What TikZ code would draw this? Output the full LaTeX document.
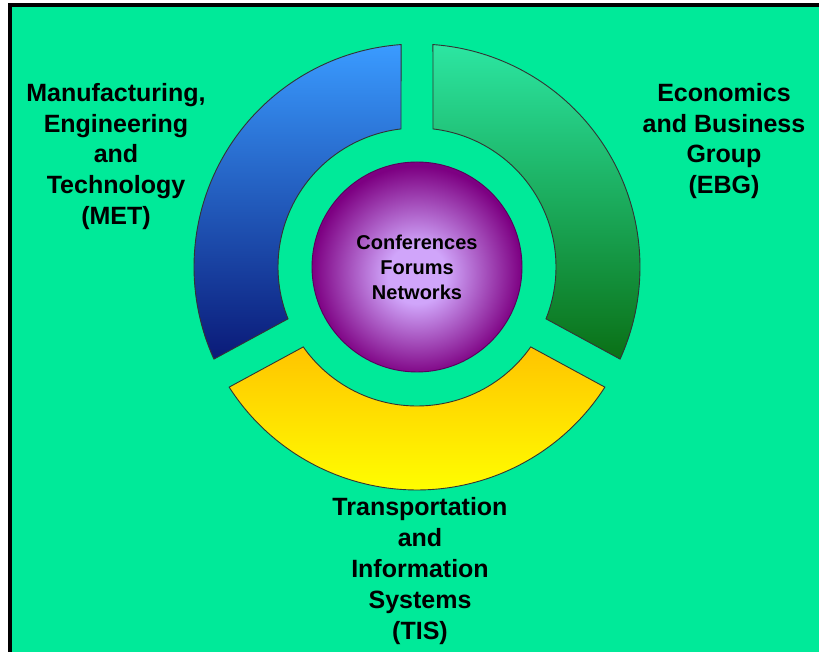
\documentclass[tikz,border=0pt]{standalone}
\usepackage{fontspec}
\setmainfont{Liberation Sans}
\usepackage{xcolor}
\usetikzlibrary{positioning}

\definecolor{bggreen}{RGB}{0,234,153}
\definecolor{metlight}{RGB}{58,155,255}
\definecolor{metdark}{RGB}{10,26,120}
\definecolor{ebglight}{RGB}{44,230,162}
\definecolor{ebgdark}{RGB}{10,112,22}
\definecolor{tistop}{RGB}{255,196,0}
\definecolor{tisbottom}{RGB}{255,255,0}
\definecolor{hublight}{RGB}{208,165,250}
\definecolor{hubdark}{RGB}{125,0,130}

\pgfdeclareradialshading{hubball}{\pgfpoint{0bp}{-2bp}}{color(0bp)=(hublight); color(7bp)=(hublight); color(25bp)=(hubdark); color(50bp)=(hubdark)}

\tikzset{
  ringpart/.style={draw=black!80, line width=0.9pt},
  grouplabel/.style={font=\bfseries\fontsize{25}{30.8}\selectfont, align=center, text=black},
  hublabel/.style={font=\bfseries\fontsize{20}{25}\selectfont, align=center, text=black}
}

\begin{document}
\begin{tikzpicture}[x=1pt,y=1pt]

\useasboundingbox (0,0) rectangle (819,652);
\fill[white] (0,0) rectangle (819,652);
\fill[bggreen] (9.5,0) rectangle (819,646.5);
\draw[line width=4pt] (9.5,0) -- (9.5,646.5) -- (819,646.5);

\coordinate (ctr) at (417,385);

% three ring parts, gaps at 90, 208.5 and 331.5 degrees
\begin{scope}[shift={(ctr)}]
\shade[ringpart, top color=metlight, bottom color=metdark]
  (94.1:223) arc[start angle=94.1, end angle=204.4, radius=223]
  -- (201.9:139) arc[start angle=201.9, end angle=96.6, radius=139] -- cycle;
\shade[ringpart, top color=ebglight, bottom color=ebgdark]
  (-24.4:223) arc[start angle=-24.4, end angle=85.9, radius=223]
  -- (83.4:139) arc[start angle=83.4, end angle=-21.9, radius=139] -- cycle;
\shade[ringpart, top color=tistop, bottom color=tisbottom]
  (212.6:223) arc[start angle=212.6, end angle=327.4, radius=223]
  -- (324.9:139) arc[start angle=324.9, end angle=215.1, radius=139] -- cycle;
\end{scope}

% centre ball
\shade[draw=hubdark!70!black, line width=0.9pt, shading=hubball]
  (ctr) circle (105);

\node (hub) at (ctr) [hublabel] {Conferences\\Forums\\Networks};

\node (met) at (116,495.5) [grouplabel] {Manufacturing,\\Engineering\\and\\Technology\\(MET)};
\node (ebg) at (724,511) [grouplabel] {Economics\\and Business\\Group\\(EBG)};
\node (tis) at (420,81) [grouplabel] {Transportation\\and\\Information\\Systems\\(TIS)};

\end{tikzpicture}
\end{document}
